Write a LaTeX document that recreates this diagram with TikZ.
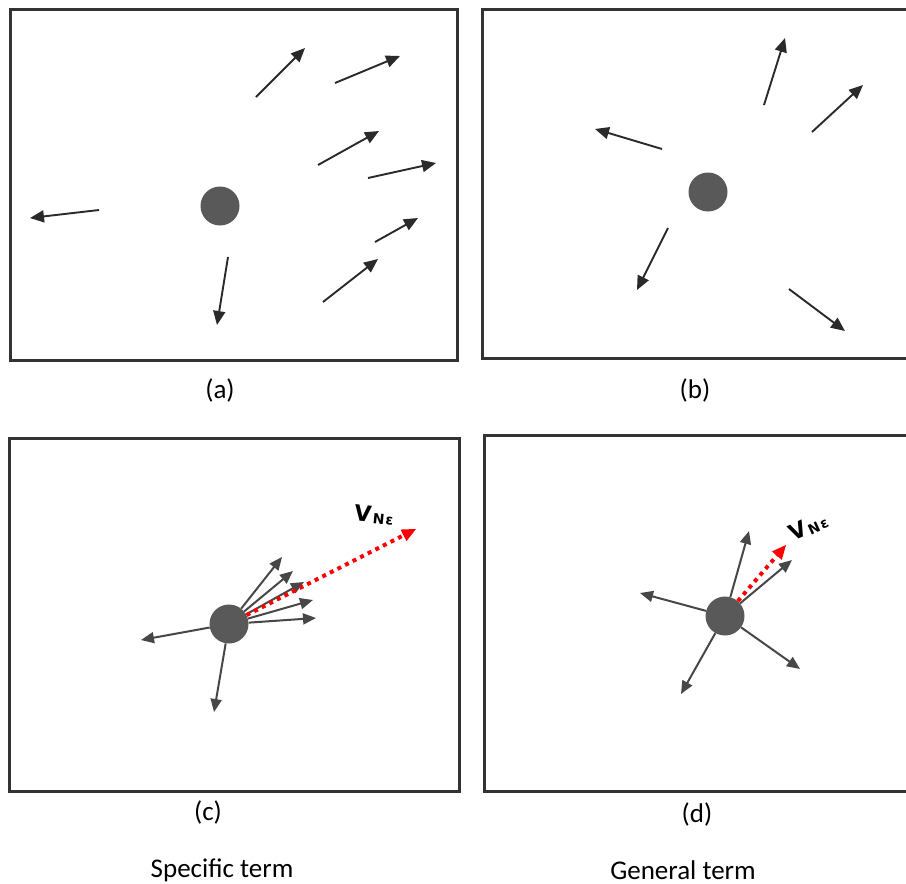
\documentclass[tikz,border=0pt]{standalone}
\usepackage{fontspec}
\setmainfont{Carlito}
\newfontfamily\vfont{DejaVu Sans}
\usetikzlibrary{arrows.meta}
\definecolor{frame}{HTML}{333333}
\definecolor{ball}{HTML}{595959}
\definecolor{arr}{HTML}{2A2A2A}
\tikzset{
  x=1pt, y=-1pt,
  panelbox/.style={draw=frame, line width=3pt},
  particle/.style={circle, fill=ball, draw=none, minimum size=39pt, inner sep=0pt},
  vel/.style={draw=arr, line width=1.9pt, -{Triangle[length=14pt, width=12pt]}},
  velc/.style={draw=black!72, line width=2pt, -{Triangle[length=13pt, width=11pt]}},
  avg/.style={draw=red, line width=4pt, dash pattern=on 4pt off 4.5pt, -{Triangle[length=14pt, width=13pt, fill=red, line width=0pt]}},
  caption/.style={font=\fontsize{27}{30}\selectfont, anchor=base, inner sep=0pt},
  vlabel/.style={inner sep=0pt, font=\vfont\bfseries\fontsize{22}{24}\selectfont}
}
\newcommand{\vne}{V\kern2pt\raisebox{-1.5pt}{\fontsize{14}{15}\selectfont N\kern1pt ε}}
\begin{document}
\begin{tikzpicture}
\useasboundingbox (0,0) rectangle (906,884);
\clip (0,0) rectangle (906,884);
\fill[white] (0,0) rectangle (906,884);

% ---------- panel (a)
\draw[panelbox] (10,9) rectangle (457,360);
\node[particle] (pa) at (220,206) {};
\coordinate (a1s) at (256,97);  \coordinate (a1e) at (305,48);
\coordinate (a2s) at (335,83);  \coordinate (a2e) at (400,56);
\coordinate (a3s) at (318,165); \coordinate (a3e) at (379,131);
\coordinate (a4s) at (368,178); \coordinate (a4e) at (436,163);
\coordinate (a5s) at (375,242); \coordinate (a5e) at (418,218);
\coordinate (a6s) at (323,302); \coordinate (a6e) at (378,259);
\coordinate (a7s) at (99,210);  \coordinate (a7e) at (30,218);
\coordinate (a8s) at (228,257); \coordinate (a8e) at (217,325);
\foreach \i in {1,...,8} {\draw[vel] (a\i s) -- (a\i e);}
\node[caption] (la) at (220,398) {(a)};

% ---------- panel (b)
\draw[panelbox] (482,9) rectangle (915,358);
\node[particle] (pb) at (708,192) {};
\coordinate (b1s) at (764,105); \coordinate (b1e) at (785,38);
\coordinate (b2s) at (812,132); \coordinate (b2e) at (863,85);
\coordinate (b3s) at (662,149); \coordinate (b3e) at (595,129);
\coordinate (b4s) at (668,228); \coordinate (b4e) at (637,290);
\coordinate (b5s) at (789,289); \coordinate (b5e) at (845,331);
\foreach \i in {1,...,5} {\draw[vel] (b\i s) -- (b\i e);}
\node[caption] (lb) at (695,398) {(b)};

% ---------- panel (c)
\draw[panelbox] (9,438) rectangle (459,791);
\node[particle] (pc) at (229,624) {};
\coordinate (c1) at (282,557);
\coordinate (c2) at (293,571);
\coordinate (c3) at (304,582);
\coordinate (c4) at (313,600);
\coordinate (c5) at (316,618);
\coordinate (c6) at (141,640);
\coordinate (c7) at (214,712);
\foreach \i in {1,...,7} {\draw[velc] (pc) -- (c\i);}
\coordinate (cr) at (416,529);
\draw[avg] (pc) -- (cr);
\node[vlabel, rotate=-6] (vc) at (374,515) {\vne};
\node[caption] (lc) at (208,820) {(c)};

% ---------- panel (d)
\draw[panelbox] (484,435) rectangle (915,791);
\node[particle] (pd) at (725,616) {};
\coordinate (d1) at (749,531);
\coordinate (d2) at (792,560);
\coordinate (d3) at (640,593);
\coordinate (d4) at (681,694);
\coordinate (d5) at (800,669);
\foreach \i in {1,...,5} {\draw[velc] (pd) -- (d\i);}
\coordinate (dr) at (786,545);
\draw[avg] (pd) -- (dr);
\node[vlabel, rotate=25] (vd) at (808,527) {\vne};
\node[caption] (ld) at (697,822) {(d)};

% ---------- bottom captions
\node[caption] (ts) at (222,877) {Specific term};
\node[caption] (tg) at (683,879) {General term};
\end{tikzpicture}
\end{document}
